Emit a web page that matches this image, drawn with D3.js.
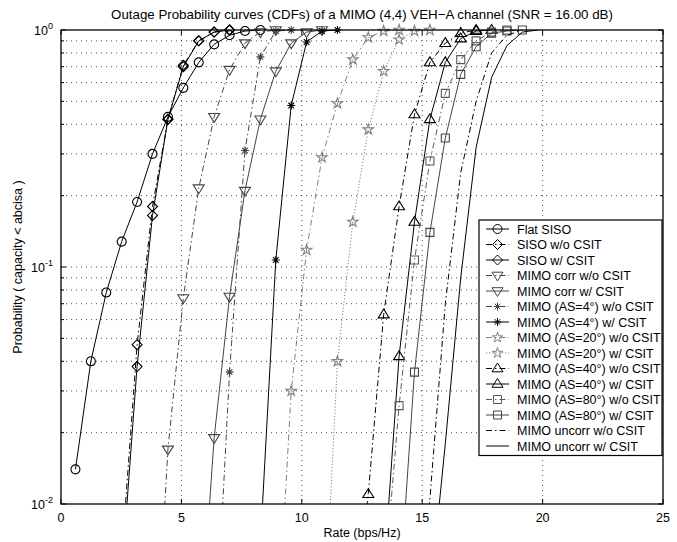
<!DOCTYPE html>
<html>
<head>
<meta charset="utf-8">
<title>Outage Probability curves</title>
<script src="https://d3js.org/d3.v7.min.js"></script>
<style>
  body { margin: 0; background: #fff; }
  svg text { font-family: "Liberation Sans", Arial, sans-serif; fill: #000; }
</style>
</head>
<body>
<div id="chart"></div>
<script>
// ---- data (rate in bps/Hz, probability) ----
const flatSisoX = [0.60, 1.24, 1.88, 2.52, 3.16, 3.80, 4.44, 5.08, 5.72, 6.36, 7.00, 7.64, 8.28];
const flatSisoP = [0.014, 0.04, 0.078, 0.128, 0.188, 0.30, 0.43, 0.57, 0.73, 0.87, 0.95, 0.99, 1.0];

const sisoWoX = [2.52, 3.16, 3.80, 4.44, 5.08, 5.72, 6.36, 7.00];
const sisoWoP = [0.006, 0.047, 0.18, 0.42, 0.71, 0.90, 0.98, 1.0];
const sisoWX = [2.52, 3.16, 3.80, 4.44, 5.08, 5.72, 6.36, 7.00];
const sisoWP = [0.005, 0.038, 0.165, 0.42, 0.70, 0.90, 0.98, 1.0];

const corrWoX = [3.80, 4.44, 5.08, 5.72, 6.36, 7.00, 7.64, 8.28, 8.92];
const corrWoP = [0.0012, 0.017, 0.074, 0.215, 0.43, 0.68, 0.88, 0.98, 1.0];
const corrWX = [5.72, 6.36, 7.00, 7.64, 8.28, 8.92, 9.56, 10.20, 10.84];
const corrWP = [0.0022, 0.019, 0.075, 0.21, 0.42, 0.67, 0.88, 0.98, 1.0];

const as4WoX = [6.36, 7.00, 7.64, 8.28, 8.92, 9.56];
const as4WoP = [0.002, 0.036, 0.31, 0.77, 0.99, 1.0];
const as4WX = [8.28, 8.92, 9.56, 10.20, 10.84, 11.48];
const as4WP = [0.0068, 0.107, 0.48, 0.89, 0.99, 1.0];

const as20WoX = [8.92, 9.56, 10.20, 10.84, 11.48, 12.12, 12.76, 13.40, 14.04];
const as20WoP = [0.002, 0.030, 0.118, 0.29, 0.49, 0.75, 0.93, 0.99, 1.0];
const as20WX = [10.84, 11.48, 12.12, 12.76, 13.40, 14.04, 14.68, 15.32];
const as20WP = [0.002, 0.040, 0.155, 0.38, 0.67, 0.91, 0.99, 1.0];

const as40WoX = [12.12, 12.76, 13.40, 14.04, 14.68, 15.32, 15.96, 16.60, 17.24];
const as40WoP = [0.003, 0.011, 0.063, 0.18, 0.44, 0.73, 0.88, 0.97, 1.0];
const as40WX = [13.40, 14.04, 14.68, 15.32, 15.96, 16.60, 17.24, 17.88];
const as40WP = [0.005, 0.042, 0.155, 0.42, 0.73, 0.92, 0.99, 1.0];

const as80WoX = [13.40, 14.04, 14.68, 15.32, 15.96, 16.60, 17.24, 17.88, 18.52];
const as80WoP = [0.0043, 0.026, 0.107, 0.28, 0.54, 0.75, 0.90, 0.98, 1.0];
const as80WX = [14.04, 14.68, 15.32, 15.96, 16.60, 17.24, 17.88, 18.52, 19.16];
const as80WP = [0.004, 0.036, 0.14, 0.35, 0.65, 0.85, 0.97, 0.99, 1.0];

const uncorrWoX = [14.68, 15.32, 15.96, 16.60, 17.24, 17.88, 18.52, 19.16];
const uncorrWoP = [0.002, 0.0105, 0.07, 0.25, 0.5, 0.8, 0.95, 1.0];
const uncorrWX = [15.32, 15.96, 16.60, 17.24, 17.88, 18.52, 19.16, 19.80];
const uncorrWP = [0.004, 0.018, 0.09, 0.32, 0.63, 0.86, 0.98, 1.0];

const legendLabels = [
  "Flat SISO", "SISO w/o CSIT", "SISO w/ CSIT",
  "MIMO corr w/o CSIT", "MIMO corr w/ CSIT",
  "MIMO (AS=4°) w/o CSIT", "MIMO (AS=4°) w/ CSIT",
  "MIMO (AS=20°) w/o CSIT", "MIMO (AS=20°) w/ CSIT",
  "MIMO (AS=40°) w/o CSIT", "MIMO (AS=40°) w/ CSIT",
  "MIMO (AS=80°) w/o CSIT", "MIMO (AS=80°) w/ CSIT",
  "MIMO uncorr w/o CSIT", "MIMO uncorr w/ CSIT"
];
const xTicks = [0, 5, 10, 15, 20, 25];
const yMajor = [0.01, 0.1, 1];
const yExp = ["-2", "-1", "0"];

// ---- styles ----
const DASHDOT = "6,3,1.5,3";
const DOTTED = "1.2,2";
const series = [
  {x: flatSisoX, p: flatSisoP, m: "o", c: "#000", dash: null},
  {x: sisoWoX, p: sisoWoP, m: "d", c: "#000", dash: DASHDOT},
  {x: sisoWX, p: sisoWP, m: "d", c: "#000", dash: null},
  {x: corrWoX, p: corrWoP, m: "v", c: "#444", dash: DASHDOT},
  {x: corrWX, p: corrWP, m: "v", c: "#444", dash: null},
  {x: as4WoX, p: as4WoP, m: "*", c: "#444", dash: DASHDOT},
  {x: as4WX, p: as4WP, m: "*", c: "#000", dash: null},
  {x: as20WoX, p: as20WoP, m: "p", c: "#808080", dash: DASHDOT},
  {x: as20WX, p: as20WP, m: "p", c: "#808080", dash: DOTTED},
  {x: as40WoX, p: as40WoP, m: "^", c: "#000", dash: DASHDOT},
  {x: as40WX, p: as40WP, m: "^", c: "#000", dash: null},
  {x: as80WoX, p: as80WoP, m: "s", c: "#5a5a5a", dash: DASHDOT},
  {x: as80WX, p: as80WP, m: "s", c: "#444", dash: null},
  {x: uncorrWoX, p: uncorrWoP, m: null, c: "#000", dash: DASHDOT},
  {x: uncorrWX, p: uncorrWP, m: null, c: "#000", dash: null}
];

const W = 677, H = 542;
const L = 61, R = 663, T = 30, B = 504;

const svg = d3.select("#chart").append("svg")
  .attr("width", W).attr("height", H);

const x = d3.scaleLinear().domain([0, 25]).range([L, R]);
const y = d3.scaleLog().domain([0.01, 1]).range([B, T]);

svg.append("defs").append("clipPath").attr("id", "plotclip")
  .append("rect").attr("x", L).attr("y", T).attr("width", R - L).attr("height", B - T);

// grid
const grid = svg.append("g").attr("stroke", "#222").attr("stroke-width", 0.8)
  .attr("stroke-dasharray", "1,4");
xTicks.slice(1, -1).forEach(v => {
  grid.append("line").attr("x1", x(v)).attr("x2", x(v)).attr("y1", T).attr("y2", B);
});
y.ticks().filter(v => v > 0.01 && v < 1).forEach(v => {
  grid.append("line").attr("x1", L).attr("x2", R).attr("y1", y(v)).attr("y2", y(v));
});

// ticks (inward, all four sides)
const tk = svg.append("g").attr("stroke", "#000").attr("stroke-width", 1);
xTicks.forEach(v => {
  tk.append("line").attr("x1", x(v)).attr("x2", x(v)).attr("y1", B).attr("y2", B - 5);
  tk.append("line").attr("x1", x(v)).attr("x2", x(v)).attr("y1", T).attr("y2", T + 5);
});
y.ticks().forEach(v => {
  const len = yMajor.includes(v) ? 5 : 3;
  tk.append("line").attr("x1", L).attr("x2", L + len).attr("y1", y(v)).attr("y2", y(v));
  tk.append("line").attr("x1", R).attr("x2", R - len).attr("y1", y(v)).attr("y2", y(v));
});

// marker shapes
function markerPath(type, r) {
  switch (type) {
    case "o": return `M${r},0A${r},${r} 0 1,1 ${-r},0A${r},${r} 0 1,1 ${r},0Z`;
    case "d": return `M0,${-r}L${r},0L0,${r}L${-r},0Z`;
    case "v": return `M${-r},${-r * 0.6}L${r},${-r * 0.6}L0,${r}Z`;
    case "^": return `M${-r},${r * 0.6}L${r},${r * 0.6}L0,${-r}Z`;
    case "s": { const h = r * 0.8; return `M${-h},${-h}H${h}V${h}H${-h}Z`; }
    case "p": {
      let d = "";
      for (let i = 0; i < 10; i++) {
        const rr = i % 2 ? r * 0.42 : r * 1.1;
        const a = -Math.PI / 2 + i * Math.PI / 5;
        d += (i ? "L" : "M") + (rr * Math.cos(a)).toFixed(2) + "," + (rr * Math.sin(a)).toFixed(2);
      }
      return d + "Z";
    }
    case "*": {
      const k = r * 0.7;
      return `M0,${-r}V${r}M${-r},0H${r}M${-k},${-k}L${k},${k}M${-k},${k}L${k},${-k}`;
    }
  }
  return "";
}
const mSize = {o: 4.5, d: 5, v: 5.5, "^": 5.5, s: 5, p: 5, "*": 4};

// curves
const line = d3.line().x(d => x(d[0])).y(d => y(d[1]));
const curves = svg.append("g");
series.forEach(s => {
  const pts = s.x.map((v, i) => [v, s.p[i]]);
  curves.append("path").datum(pts)
    .attr("clip-path", "url(#plotclip)")
    .attr("fill", "none").attr("stroke", s.c).attr("stroke-width", 1)
    .attr("stroke-dasharray", s.dash)
    .attr("d", line);
  if (s.m) {
    curves.selectAll(null).data(pts.filter(d => d[1] >= 0.01)).enter()
      .append("path")
      .attr("transform", d => `translate(${x(d[0])},${y(d[1])})`)
      .attr("d", markerPath(s.m, mSize[s.m]))
      .attr("fill", "none").attr("stroke", s.c).attr("stroke-width", 1.1);
  }
});

// axes box
svg.append("rect").attr("x", L).attr("y", T).attr("width", R - L).attr("height", B - T)
  .attr("fill", "none").attr("stroke", "#000").attr("stroke-width", 1.3);

// tick labels
svg.append("g").selectAll("text").data(xTicks).enter().append("text")
  .attr("x", d => x(d)).attr("y", B + 18).attr("text-anchor", "middle")
  .attr("font-size", 12.5).text(d => d);

const yl = svg.append("g").selectAll("text").data(yMajor).enter().append("text")
  .attr("x", L - 8).attr("y", d => y(d) + 5).attr("text-anchor", "end")
  .attr("font-size", 12.5);
yl.append("tspan").text("10");
yl.append("tspan").attr("dy", -6).attr("font-size", 9).text((d, i) => yExp[i]);

// axis titles
svg.append("text").attr("x", (L + R) / 2).attr("y", B + 33).attr("text-anchor", "middle")
  .attr("font-size", 12.5).text("Rate (bps/Hz)");
svg.append("text").attr("transform", `translate(22,${(T + B) / 2}) rotate(-90)`)
  .attr("text-anchor", "middle").attr("font-size", 12.5)
  .text("Probability ( capacity < abcisa )");
svg.append("text").attr("x", (L + R) / 2).attr("y", T - 11).attr("text-anchor", "middle")
  .attr("font-size", 13.3)
  .text("Outage Probability curves (CDFs) of a MIMO (4,4) VEH\u2212A channel (SNR = 16.00 dB)");

// legend
const lgX = 479, lgY = 220, lgW = R - 1 - lgX, rowH = 15.5;
const lg = svg.append("g");
lg.append("rect").attr("x", lgX).attr("y", lgY).attr("width", lgW)
  .attr("height", rowH * legendLabels.length + 3)
  .attr("fill", "#fff").attr("stroke", "#000").attr("stroke-width", 1.2);
legendLabels.forEach((lab, i) => {
  const s = series[i];
  const cy = lgY + 9 + i * rowH;
  lg.append("line").attr("x1", lgX + 7).attr("x2", lgX + 30).attr("y1", cy).attr("y2", cy)
    .attr("stroke", s.c).attr("stroke-width", 1).attr("stroke-dasharray", s.dash);
  if (s.m) {
    lg.append("path").attr("transform", `translate(${lgX + 18.5},${cy})`)
      .attr("d", markerPath(s.m, mSize[s.m]))
      .attr("fill", "none").attr("stroke", s.c);
  }
  lg.append("text").attr("x", lgX + 38).attr("y", cy + 4.5)
    .attr("font-size", 12.5).text(lab);
});
</script>
</body>
</html>
